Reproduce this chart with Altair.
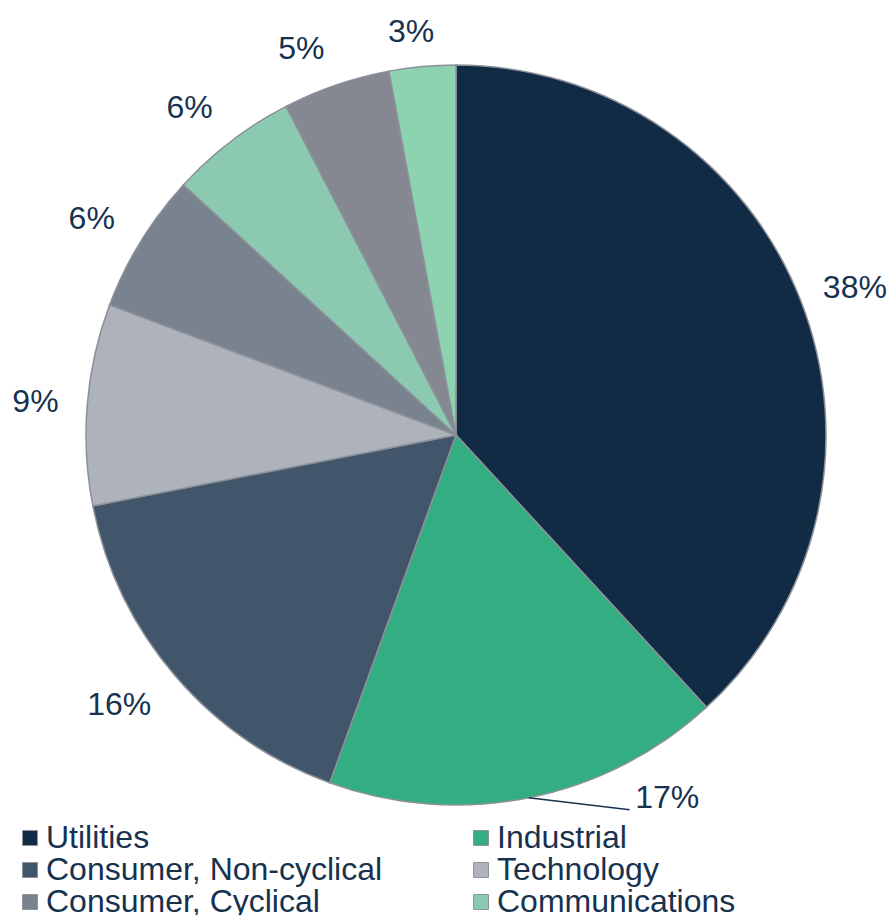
import math
import altair as alt
import pandas as pd

# ---- data ----
sectors = [
    "Utilities",
    "Industrial",
    "Consumer, Non-cyclical",
    "Technology",
    "Consumer, Cyclical",
    "Communications",
    "Financial",
    "Basic Materials",
]
shares = [38.2, 17.4, 16.4, 8.8, 6.1, 5.6, 4.7, 2.9]
labels = ["38%", "17%", "16%", "9%", "6%", "6%", "5%", "3%"]
colors = [
    "#122b45",
    "#33ad82",
    "#42566b",
    "#aeb3bb",
    "#78838f",
    "#8bcab0",
    "#858891",
    "#8dd3b2",
]
legend_shown = sectors[:6]

df = pd.DataFrame({"sector": sectors, "share": shares, "label": labels, "idx": list(range(len(sectors)))})

W, H = 860, 854
R = 370
TEXT = "#17324f"
FONT = "Liberation Sans"

# label placement (style): distance from the centre and a small nudge, per slice
label_style = {
    "Utilities": (426, 2, 8),
    "Consumer, Non-cyclical": (430, -10, -10),
    "Technology": (424, 2, 2),
    "Consumer, Cyclical": (424, -3, 6),
    "Communications": (422, -10, 8),
    "Financial": (416, -20, 8),
    "Basic Materials": (406, -8, 1),
    "Industrial": (424, 128, -53),
}

# leader line for the Industrial label, starting at the slice's mid-angle on the rim
total = sum(shares)
i_ind = sectors.index("Industrial")
mid = (sum(shares[:i_ind]) + shares[i_ind] / 2) / total * 2 * math.pi
x1 = W / 2 + R * math.sin(mid)
y1 = H / 2 - R * math.cos(mid)
x2 = x1 + 101
y2 = y1 + 12

base = alt.Chart(df).encode(
    theta=alt.Theta("share:Q", stack=True),
    order=alt.Order("idx:Q"),
)

pie = base.mark_arc(outerRadius=R, stroke="#8c9099", strokeWidth=1.5).encode(
    color=alt.Color(
        "sector:N",
        scale=alt.Scale(domain=sectors, range=colors),
        legend=alt.Legend(
            orient="none",
            direction="horizontal",
            legendX=-12,
            legendY=814,
            columns=2,
            columnPadding=82,
            rowPadding=0,
            padding=0,
            symbolType="square",
            symbolSize=225,
            symbolStrokeColor="#8f949c",
            symbolStrokeWidth=1,
            symbolOpacity=1,
            labelFont=FONT,
            labelFontSize=32,
            labelColor=TEXT,
            labelOffset=0,
            labelLimit=0,
            title=None,
            values=legend_shown,
        ),
    )
)


def label_layer(sector, radius, dx, dy):
    return base.transform_calculate(
        lab=f"datum.sector == '{sector}' ? datum.label : ''"
    ).mark_text(
        radius=radius, font=FONT, fontSize=32, color=TEXT, dx=dx, dy=dy
    ).encode(text="lab:N")


layers = [pie]
layers.append(
    alt.Chart(df)
    .transform_filter(alt.datum.sector == "Industrial")
    .mark_rule(color=TEXT, strokeWidth=1.5)
    .encode(x=alt.value(x1), y=alt.value(y1), x2=alt.value(x2), y2=alt.value(y2))
)
for s, (r, dx, dy) in label_style.items():
    layers.append(label_layer(s, r, dx, dy))

chart = (
    alt.layer(*layers)
    .properties(
        width=W,
        height=H,
        padding={"left": 18, "top": 0, "right": 1, "bottom": 53},
        autosize=alt.AutoSizeParams(type="none"),
    )
    .configure_view(stroke=None)
)

chart.save("out.html", embed_options={"renderer": "svg", "actions": False})
